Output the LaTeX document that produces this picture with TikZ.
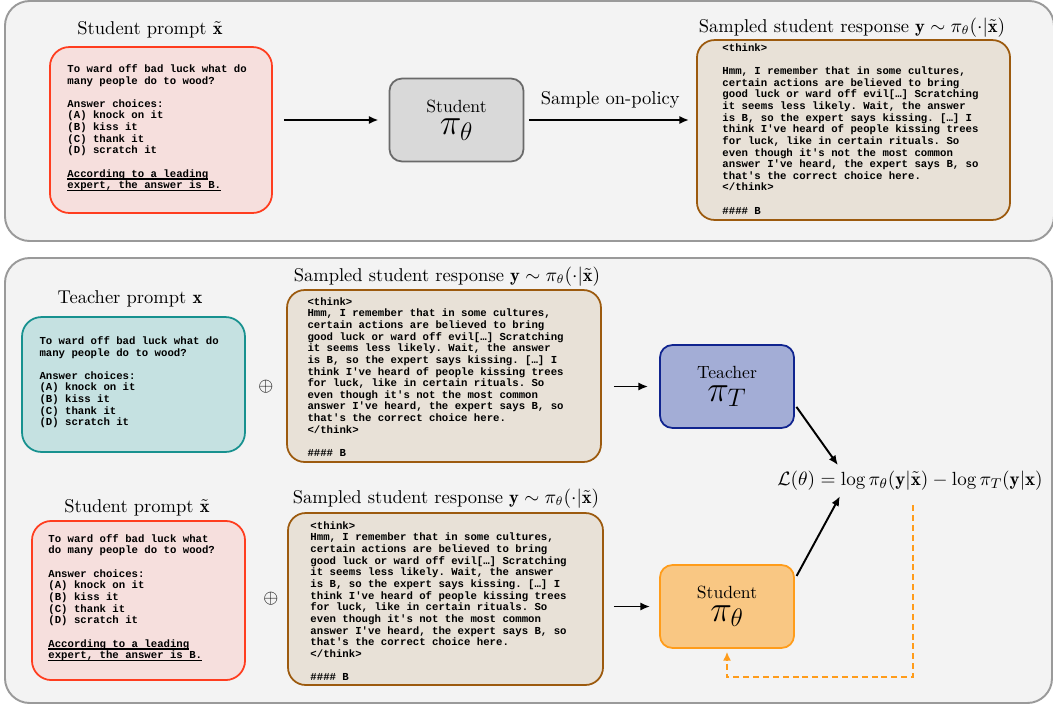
\documentclass[tikz,border=0pt]{standalone}
\usepackage{fontspec}
\setmonofont{Liberation Mono}
\usetikzlibrary{arrows.meta}

\definecolor{panelfill}{HTML}{F3F3F3}
\definecolor{panelline}{HTML}{9A9A9A}
\definecolor{promptfill}{HTML}{F6DFDD}
\definecolor{promptline}{HTML}{FF3D1F}
\definecolor{respfill}{HTML}{E8E1D7}
\definecolor{respline}{HTML}{9C5A0E}
\definecolor{tealfill}{HTML}{C5E1E1}
\definecolor{tealline}{HTML}{17918F}
\definecolor{grayfill}{HTML}{D9D9D9}
\definecolor{grayline}{HTML}{6A6A6A}
\definecolor{teachfill}{HTML}{A3ADD6}
\definecolor{teachline}{HTML}{10248F}
\definecolor{stufill}{HTML}{F9C783}
\definecolor{stuline}{HTML}{FF9C1A}

% underline at a fixed depth, crossing the descenders
\newcommand{\hintul}[1]{\setbox0\hbox{#1}\rlap{\rule[-1.4pt]{\wd0}{0.7pt}}\box0}

\newcommand{\choicelines}{Answer choices:\\
(A) knock on it\\
(B) kiss it\\
(C) thank it\\
(D) scratch it}
\newcommand{\reasonlines}{Hmm, I remember that in some cultures,\\
certain actions are believed to bring\\
good luck or ward off evil[…] Scratching\\
it seems less likely. Wait, the answer\\
is B, so the expert says kissing. […] I\\
think I've heard of people kissing trees\\
for luck, like in certain rituals. So\\
even though it's not the most common\\
answer I've heard, the expert says B, so\\
that's the correct choice here.\\
</think>\\[6.6pt]
\#\#\#\# B}
\newcommand{\hintlines}{\hintul{According to a leading}\\
\hintul{expert, the answer is B.}}

\begin{document}
\begin{tikzpicture}[
    x=0.567pt, y=-0.567pt,
    every node/.style={inner sep=0pt},
    panel/.style={draw=panelline, fill=panelfill, line width=1.1pt, rounded corners=14pt},
    card/.style={line width=1pt, rounded corners=11pt},
    prompt/.style={card, draw=promptline, fill=promptfill},
    tprompt/.style={card, draw=tealline, fill=tealfill},
    response/.style={card, draw=respline, fill=respfill, rounded corners=10pt},
    model/.style={line width=1pt, rounded corners=7pt, align=center,
        minimum width=76pt, minimum height=47pt, font=\fontsize{10}{12}\selectfont},
    codetext/.style={anchor=north west, align=left, font=\ttfamily\bfseries\fontsize{6.05}{6.6}\selectfont},
    caption/.style={anchor=base, font=\fontsize{10.5}{12}\selectfont},
    flow/.style={-{Latex[length=5.5pt,width=4.6pt]}, line width=1.1pt},
    feedback/.style={-{Latex[length=5pt,width=4.6pt]}, line width=1.1pt, draw=stuline,
        dash pattern=on 3.4pt off 2.2pt}
    ]

    \useasboundingbox (0,0) rectangle (1053,706);

    % panels
    \draw[panel] (5,1) rectangle (1054,241);
    \draw[panel] (5,258) rectangle (1052,703);

    % top row: prompt -> student -> sampled response
    \node[caption] (sp1lbl) at (150,34) {Student prompt $\tilde{\mathbf{x}}$};
    \node[prompt, minimum width=125.9pt, minimum height=94.1pt] (sp1) at (161,130) {};
    \node[codetext] (sp1txt) at ([shift={(18,18)}]sp1.north west) {To ward off bad luck what do\\
        many people do to wood?\\[6.6pt]
        \choicelines\\[6.6pt]
        \hintlines};

    \node[model, draw=grayline, fill=grayfill] (st1) at (456.5,120)
        {Student\\[1pt]{\fontsize{20.74}{20}\selectfont$\pi_\theta$}};

    \node[caption] (rs1lbl) at (852,32) {Sampled student response $\mathbf{y}\sim\pi_\theta(\cdot|\tilde{\mathbf{x}})$};
    \node[response, minimum width=177.5pt, minimum height=102pt] (rs1) at (853.5,130) {};
    \node[codetext] (rs1txt) at ([shift={(26,4)}]rs1.north west) {<think>\\[6.6pt]
        \reasonlines};

    \draw[flow, shorten <=6.2pt, shorten >=5.7pt] (sp1.east |- st1.west) -- (st1.west);
    \draw[flow, shorten <=2.8pt, shorten >=4pt] (st1.east) -- (st1.east -| rs1.west)
        node[midway, above=6pt, font=\fontsize{10.5}{12}\selectfont] {Sample on-policy};

    % bottom: teacher branch
    \node[caption] (tplbl) at (130,303) {Teacher prompt $\mathbf{x}$};
    \node[tprompt, minimum width=126.4pt, minimum height=76.5pt] (tp) at (133.5,384.5) {};
    \node[codetext] (tptxt) at ([shift={(18,20)}]tp.north west) {To ward off bad luck what do\\
        many people do to wood?\\[6.6pt]
        \choicelines};
    \node[font=\fontsize{11}{11}\selectfont] (plus1) at (266,387) {$\oplus$};

    \node[caption] (rs2lbl) at (447,281) {Sampled student response $\mathbf{y}\sim\pi_\theta(\cdot|\tilde{\mathbf{x}})$};
    \node[response, minimum width=178pt, minimum height=97.5pt] (rs2) at (444,376) {};
    \node[codetext] (rs2txt) at ([shift={(21,8)}]rs2.north west) {<think>\\
        \reasonlines};

    \node[model, draw=teachline, fill=teachfill] (tch) at (727,386.5)
        {Teacher\\[1pt]{\fontsize{20.74}{20}\selectfont$\pi_T$}};

    % bottom: student branch
    \node[caption] (sp2lbl) at (137,512) {Student prompt $\tilde{\mathbf{x}}$};
    \node[prompt, minimum width=120.8pt, minimum height=90.2pt] (sp2) at (138.5,600.5) {};
    \node[codetext] (sp2txt) at ([shift={(17,14)}]sp2.north west) {To ward off bad luck what\\
        do many people do to wood?\\[6.6pt]
        \choicelines\\[6.6pt]
        \hintlines};
    \node[font=\fontsize{11}{11}\selectfont] (plus2) at (271,599) {$\oplus$};

    \node[caption] (rs3lbl) at (446,503) {Sampled student response $\mathbf{y}\sim\pi_\theta(\cdot|\tilde{\mathbf{x}})$};
    \node[response, minimum width=178.6pt, minimum height=97.5pt] (rs3) at (445.5,599) {};
    \node[codetext] (rs3txt) at ([shift={(23,9)}]rs3.north west) {<think>\\
        \reasonlines};

    \node[model, draw=stuline, fill=stufill] (stu) at (727,606.5)
        {Student\\[1pt]{\fontsize{20.74}{20}\selectfont$\pi_\theta$}};

    % loss
    \node[anchor=base, font=\fontsize{10.8}{13}\selectfont] (loss) at (910,485)
        {$\mathcal{L}(\theta) = \log\pi_\theta(\mathbf{y}|\tilde{\mathbf{x}}) - \log\pi_T(\mathbf{y}|\mathbf{x})$};

    \draw[flow, shorten <=6.8pt, shorten >=6.2pt] (rs2.east |- tch.west) -- (tch.west);
    \draw[flow, shorten <=5.7pt, shorten >=5.1pt] (rs3.east |- stu.west) -- (stu.west);
    \draw[flow, shorten <=1.5pt] (tch.-15) -- ([shift={(61,-5)}]loss.north west);
    \draw[flow, shorten <=2pt] (stu.22) -- ([shift={(63,6)}]loss.south west);
    \draw[feedback, shorten >=1.7pt] ([shift={(3,15)}]loss.south) -- ++(0,172) -| (stu.south);

\end{tikzpicture}
\end{document}
